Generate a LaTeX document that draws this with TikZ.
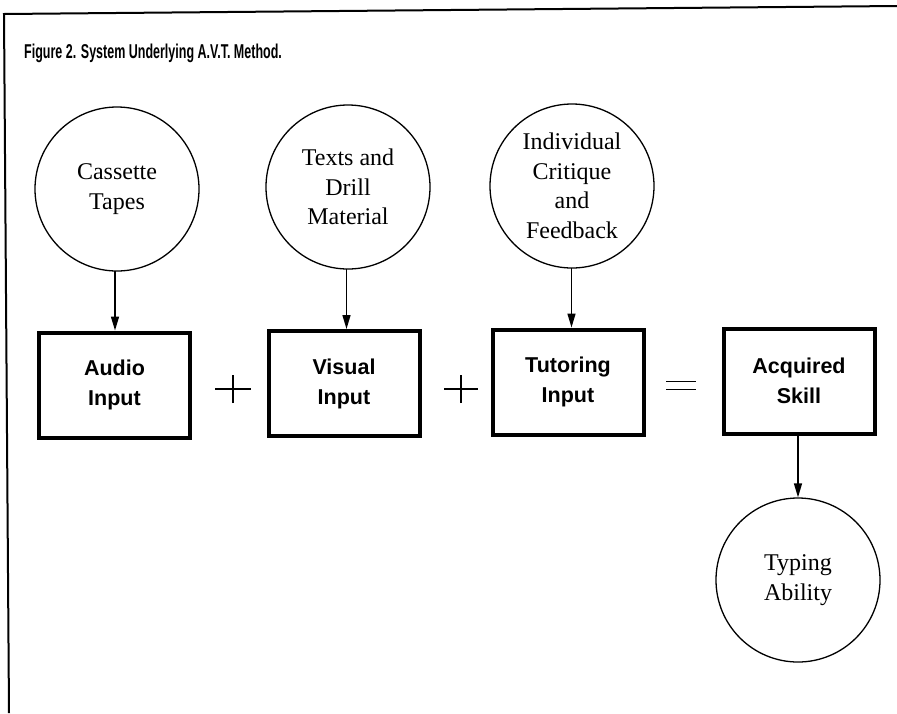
\documentclass[tikz,border=0pt]{standalone}
\usepackage{fontspec}
\usetikzlibrary{arrows.meta}
\setmainfont{Liberation Serif}
\newfontfamily\titlefont{Liberation Sans}[FakeStretch=0.625]
\newfontfamily\boxfont{Liberation Sans}
\tikzset{
  srccircle/.style={circle, draw, line width=1.3pt, minimum size=164pt, inner sep=0pt, align=center,
    font=\fontsize{24}{29.5}\selectfont},
  stagebox/.style={rectangle, draw, line width=4pt, minimum width=151pt, minimum height=105pt, align=center,
    font=\boxfont\bfseries\fontsize{21.5}{30}\selectfont},
  flow/.style={line width=1.5pt, -{Triangle[length=14pt,width=8pt]}},
  opline/.style={line width=1.7pt},
  frameline/.style={line width=2pt}
}
\begin{document}
\begin{tikzpicture}[x=1pt,y=-1pt]
\useasboundingbox (0,0) rectangle (897,713);
% frame
\coordinate (fa) at (4,14);
\coordinate (fb) at (897,6);
\coordinate (fc) at (9,713);
\draw[frameline] (fc) -- (fa) -- (fb);
% title
\node[anchor=base west, inner sep=0pt, font=\titlefont\bfseries\fontsize{20}{22}\selectfont] (title) at (24,58)
  {Figure 2. System Underlying A.V.T. Method.};
% circles
\node[srccircle] (c1) at (117,189) {Cassette\\Tapes};
\node[srccircle] (c2) at (348,187) {Texts and\\Drill\\Material};
\node[srccircle] (c3) at (572,186) {Individual\\Critique\\and\\Feedback};
\node[srccircle] (c4) at (798,580) {Typing\\Ability};
% boxes
\node[stagebox] (b1) at (114.5,385) {Audio\\Input};
\node[stagebox] (b2) at (344,383.5) {Visual\\Input};
\node[stagebox] (b3) at (568,382) {Tutoring\\Input};
\node[stagebox] (b4) at (799,381) {Acquired\\Skill};
% arrows
\coordinate (a1) at (115,271);
\coordinate (a2) at (346.5,269);
\coordinate (a3) at (571.5,268);
\draw[flow] (a1) -- (a1 |- b1.north);
\draw[flow] (a2) -- (a2 |- b2.north);
\draw[flow] (a3) -- (a3 |- b3.north);
\draw[flow] (b4.south -| c4.north) -- (c4.north);
% operators
\coordinate (p1) at (233,389);
\coordinate (p2) at (461,389);
\coordinate (eq) at (681,385.5);
\draw[opline] ([xshift=-18pt]p1) -- ([xshift=18pt]p1);
\draw[opline] ([yshift=-14pt]p1) -- ([yshift=14pt]p1);
\draw[opline] ([xshift=-17pt]p2) -- ([xshift=17pt]p2);
\draw[opline] ([yshift=-14pt]p2) -- ([yshift=14pt]p2);
\draw[opline] ([xshift=-15pt,yshift=-4pt]eq) -- ([xshift=15pt,yshift=-4pt]eq);
\draw[opline] ([xshift=-15pt,yshift=4pt]eq) -- ([xshift=15pt,yshift=4pt]eq);
\end{tikzpicture}
\end{document}
